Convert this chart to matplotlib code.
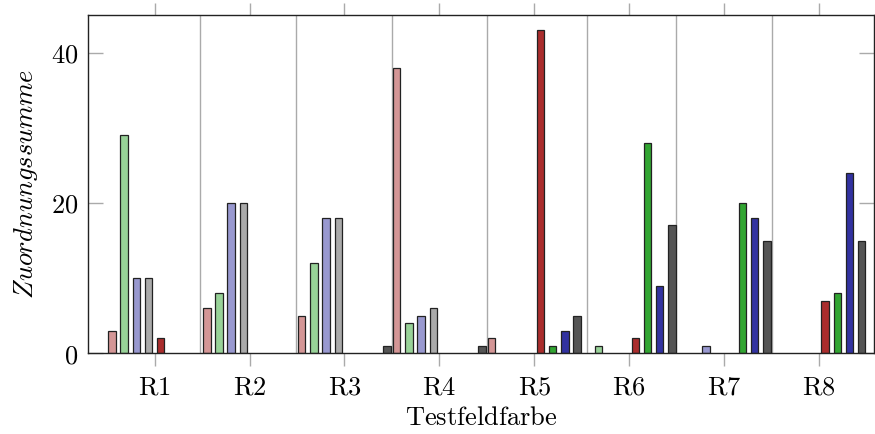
import numpy as np
import matplotlib
matplotlib.use("Agg")
import matplotlib.pyplot as plt

plt.rcParams['mathtext.fontset'] = 'cm'
plt.rcParams['font.family'] = 'serif'
plt.rcParams['font.serif'] = ['DejaVu Serif']

groups = ["R1", "R2", "R3", "R4", "R5", "R6", "R7", "R8"]

# 8 series per group: light red, light green, light blue, light gray,
# dark red, green, blue, dark gray
light_red = [3, 6, 5, 38, 2, 0, 0, 0]
light_green = [29, 8, 12, 4, 0, 1, 0, 0]
light_blue = [10, 20, 18, 5, 0, 0, 1, 0]
light_gray = [10, 20, 18, 6, 0, 0, 0, 0]
dark_red = [2, 0, 0, 0, 43, 2, 0, 7]
green = [0, 0, 0, 0, 1, 28, 20, 8]
blue = [0, 0, 0, 0, 3, 9, 18, 24]
dark_gray = [0, 0, 1, 1, 5, 17, 15, 15]

series = [light_red, light_green, light_blue, light_gray,
          dark_red, green, blue, dark_gray]
colors = ['#d49696', '#98d298', '#9898cf', '#aaaaaa',
          '#aa2d2d', '#32a532', '#3232a0', '#555555']

# separator lines between groups (as placed in the original)
separators = [1.478, 2.49, 3.498, 4.506, 5.553, 6.494, 7.503]

x = np.arange(1, len(groups) + 1)
step = 0.1286
width = 0.079

fig = plt.figure(figsize=(8.75, 4.34), dpi=100)
ax = fig.add_axes([0.1009, 0.186, 0.898, 0.7794])

for s in separators:
    ax.axvline(s, color='#aaaaaa', lw=1.0, zorder=0)

for k, vals in enumerate(series):
    vals = np.array(vals)
    pos = x + (k - 3.5) * step
    mask = vals > 0
    ax.bar(pos[mask], vals[mask], width=width, color=colors[k],
           edgecolor='#222222', linewidth=0.9, zorder=2)

ax.set_xlim(0.301, 8.58)
ax.set_ylim(0, 45)

ax.set_xticks(x)
ax.set_xticklabels([r'$\mathrm{%s}$' % g for g in groups])
ax.set_yticks([0, 20, 40])
ax.set_yticklabels([r'$%d$' % v for v in [0, 20, 40]])

ax.tick_params(axis='x', direction='out', top=True, length=9, width=1.0,
               color='#aaaaaa', labelsize=19, pad=6)
ax.tick_params(axis='y', direction='in', right=True, length=11, width=1.0,
               color='#aaaaaa', labelsize=19, pad=7)

for sp in ax.spines.values():
    sp.set_color('#222222')
    sp.set_linewidth(1.0)

ax.set_xlabel(r'$\mathrm{Testfeldfarbe}$', fontsize=19, labelpad=4)
ax.set_ylabel(r'$Zuordnungssumme$', fontsize=19, labelpad=8)

fig.savefig("out.png", dpi=100)
